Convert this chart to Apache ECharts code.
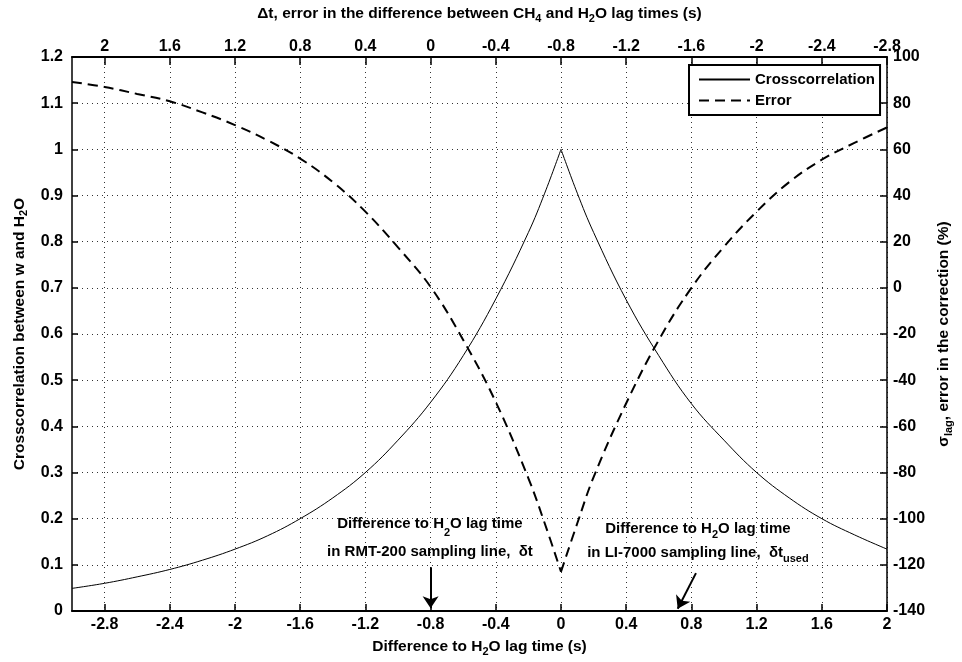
<!DOCTYPE html>
<html>
<head>
<meta charset="utf-8">
<script src="https://cdn.jsdelivr.net/npm/echarts@6/dist/echarts.min.js"></script>
<style>
  html, body { margin: 0; padding: 0; background: #fff; }
  #chart { width: 962px; height: 662px; }
</style>
</head>
<body>
<div id="chart"></div>
<script>
// lag difference (s), split at the peak so the cusp stays sharp
const xLeft = [-3.0, -2.8, -2.6, -2.4, -2.2, -2.0, -1.8, -1.6, -1.4, -1.2, -1.0, -0.8, -0.6, -0.4, -0.2, -0.1, 0];
const xRight = [0, 0.1, 0.2, 0.4, 0.6, 0.8, 1.0, 1.2, 1.4, 1.6, 1.8, 2.0];

const corrLeft = [0.049, 0.060, 0.074, 0.090, 0.110, 0.134, 0.163, 0.200, 0.245, 0.300, 0.370, 0.452, 0.553, 0.676, 0.820, 0.905, 1.0];
const corrRight = [1.0, 0.905, 0.820, 0.674, 0.553, 0.449, 0.370, 0.300, 0.245, 0.200, 0.165, 0.134];

const errLeft = [89.2, 87.0, 84.0, 80.8, 76.0, 70.5, 63.9, 56.0, 45.8, 33.0, 17.5, 0.4, -22.6, -49.5, -82.5, -102, -123];
const errRight = [-123, -102, -82, -50, -22.6, 0, 17.8, 33, 45.8, 55.5, 62.8, 69.5];

const bottomTicks = [-2.8, -2.4, -2, -1.6, -1.2, -0.8, -0.4, 0, 0.4, 0.8, 1.2, 1.6, 2];
const topTicks = [-2.8, -2.4, -2, -1.6, -1.2, -0.8, -0.4, 0, 0.4, 0.8, 1.2, 1.6, 2];

// arrows: [start, end] in (lag time, crosscorrelation)
const arrowRmt = [[-0.8, 0.095], [-0.8, 0.006]];
const arrowLi = [[0.828, 0.082], [0.716, 0.005]];
const labelRmt = [-0.804, 0.158];
const labelLi = [0.84, 0.152];

const FONT = 'Liberation Sans, Arial, sans-serif';
const zip = (xs, ys) => xs.map((x, i) => [x, ys[i]]);

function subRich(size, lh) {
  return {
    t: { fontFamily: FONT, fontWeight: 'bold', fontSize: size, color: '#000', lineHeight: lh },
    s: { fontFamily: FONT, fontWeight: 'bold', fontSize: Math.round(size * 0.72), color: '#000',
         lineHeight: lh - 10, verticalAlign: 'bottom' }
  };
}

const chart = echarts.init(document.getElementById('chart'));

const tickLabel = { fontFamily: FONT, fontWeight: 'bold', fontSize: 16, color: '#000' };
const gridLine = { show: true, lineStyle: { color: '#333', width: 1, type: [1, 4] } };

function lineSeries(name, xs, ys, yIndex, style) {
  return {
    name: name,
    type: 'line',
    yAxisIndex: yIndex,
    data: zip(xs, ys),
    smooth: 0.4,
    symbol: 'none',
    lineStyle: style,
    itemStyle: { color: '#000' },
    z: 3
  };
}

const solid = { color: '#000', width: 1 };
const dashed = { color: '#000', width: 2, type: [10, 6] };

const crossLeft = lineSeries('Crosscorrelation', xLeft, corrLeft, 0, solid);
crossLeft.markLine = {
  silent: true,
  symbol: ['none', 'arrow'],
  symbolSize: 12,
  label: { show: false },
  lineStyle: { color: '#000', width: 2, type: 'solid' },
  data: [
    [{ coord: arrowRmt[0] }, { coord: arrowRmt[1] }],
    [{ coord: arrowLi[0] }, { coord: arrowLi[1] }]
  ]
};
crossLeft.markPoint = {
  silent: true,
  symbol: 'circle',
  symbolSize: 0,
  label: { show: true, position: 'inside', align: 'center', verticalAlign: 'middle' },
  data: [
    {
      coord: labelRmt,
      label: {
        formatter: '{t|Difference to H}{s|2}{t|O lag time}\n{t|in RMT-200 sampling line,  δt}',
        rich: subRich(15, 28)
      }
    },
    {
      coord: labelLi,
      label: {
        formatter: '{t|Difference to H}{s|2}{t|O lag time}\n{t|in LI-7000 sampling line,  δt}{s|used}',
        rich: subRich(15, 24)
      }
    }
  ]
};

chart.setOption({
  animation: false,
  backgroundColor: '#fff',
  grid: { left: 72, right: 75, top: 57, bottom: 51 },
  legend: {
    data: ['Crosscorrelation', 'Error'],
    orient: 'vertical',
    left: 689,
    top: 65,
    padding: [7, 5, 7, 9],
    itemWidth: 51,
    itemHeight: 14,
    itemGap: 6,
    borderColor: '#000',
    borderWidth: 2,
    backgroundColor: '#fff',
    selectedMode: false,
    itemStyle: { opacity: 0 },
    textStyle: { fontFamily: FONT, fontWeight: 'bold', fontSize: 15, color: '#000' }
  },
  xAxis: [
    {
      type: 'value',
      position: 'bottom',
      min: -3,
      max: 2,
      name: '{t|Difference to H}{s|2}{t|O lag time (s)}',
      nameLocation: 'middle',
      nameGap: 26,
      nameTextStyle: { rich: subRich(15.5, 20) },
      axisLine: { onZero: false, lineStyle: { color: '#000', width: 2 } },
      axisTick: { inside: true, length: 7, customValues: bottomTicks, lineStyle: { color: '#000', width: 1.5 } },
      axisLabel: Object.assign({ customValues: bottomTicks, margin: 6 }, tickLabel),
      splitLine: gridLine
    },
    {
      type: 'value',
      position: 'top',
      min: -2.8,
      max: 2.2,
      inverse: true,
      name: '{t|Δt, error in the difference between CH}{s|4}{t| and H}{s|2}{t|O lag times (s)}',
      nameLocation: 'middle',
      nameGap: 33,
      nameTextStyle: { rich: subRich(15.5, 20) },
      axisLine: { onZero: false, lineStyle: { color: '#000', width: 2 } },
      axisTick: { inside: true, length: 8, customValues: topTicks, lineStyle: { color: '#000', width: 1.5 } },
      axisLabel: Object.assign({ customValues: topTicks, margin: 2 }, tickLabel),
      splitLine: { show: false }
    }
  ],
  yAxis: [
    {
      type: 'value',
      min: 0,
      max: 1.2,
      interval: 0.1,
      name: '{t|Crosscorrelation between w and H}{s|2}{t|O}',
      nameLocation: 'middle',
      nameGap: 42,
      nameTextStyle: { rich: subRich(15.5, 20) },
      axisLine: { show: true, onZero: false, lineStyle: { color: '#000', width: 1.5 } },
      axisTick: { show: true, inside: true, length: 6, lineStyle: { color: '#000', width: 1.5 } },
      axisLabel: Object.assign({ margin: 9 }, tickLabel),
      splitLine: gridLine
    },
    {
      type: 'value',
      position: 'right',
      min: -140,
      max: 100,
      interval: 20,
      name: '{t|σ}{s|lag}{t|, error in the correction (%)}',
      nameLocation: 'middle',
      nameRotate: 90,
      nameGap: 47,
      nameTextStyle: { rich: subRich(15.5, 20) },
      axisLine: { show: true, onZero: false, lineStyle: { color: '#000', width: 1.5 } },
      axisTick: { show: true, inside: true, length: 7, lineStyle: { color: '#000', width: 1.5 } },
      axisLabel: Object.assign({ margin: 6 }, tickLabel),
      splitLine: { show: false }
    }
  ],
  series: [
    crossLeft,
    lineSeries('Crosscorrelation', xRight, corrRight, 0, solid),
    lineSeries('Error', xLeft, errLeft, 1, dashed),
    lineSeries('Error', xRight, errRight, 1, dashed)
  ]
});
</script>
</body>
</html>
